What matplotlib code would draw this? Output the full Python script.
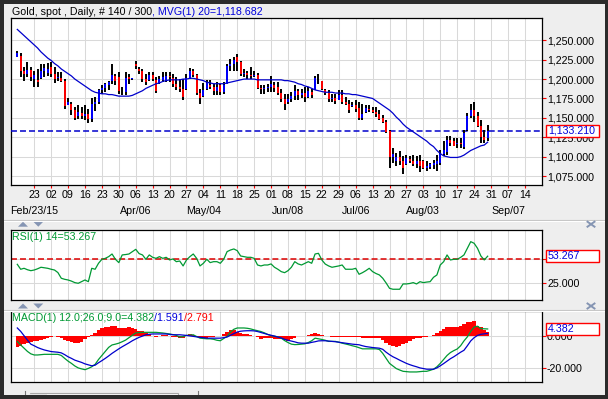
#!/usr/bin/env python3
# Gold spot daily: price bars + MVG(20), RSI(14) and MACD(12,26,9) panels
import matplotlib
matplotlib.use("Agg")
import matplotlib.pyplot as plt
from matplotlib.patches import Rectangle, Polygon
from matplotlib.lines import Line2D
from matplotlib.ticker import FuncFormatter

plt.rcParams["font.family"] = ["Liberation Sans", "DejaVu Sans"]

W, H = 608, 399
BG = "#eeeeee"
FRAME = "#2b2b2b"
GRID = "#d9d9d9"
BLUE = "#0000dd"
GREEN = "#009933"
RED = "#ff0000"
ICON = "#8595b3"
FS = 7.7

# --- data ---
open_ = [1229, 1230, 1210, 1206, 1212, 1200, 1199, 1201, 1210, 1208,
         1215, 1207, 1201, 1202, 1198, 1166, 1168, 1160, 1152, 1156,
         1153, 1155, 1148, 1168, 1170, 1186, 1188, 1192, 1197, 1204,
         1203, 1185, 1183, 1203, 1200, 1220, 1213, 1210, 1200, 1199,
         1205, 1199, 1195, 1199, 1198, 1204, 1202, 1194, 1190, 1187,
         1187, 1202, 1210, 1205, 1182, 1178, 1187, 1193, 1190, 1185,
         1192, 1183, 1194, 1217, 1220, 1228, 1222, 1207, 1208, 1205,
         1204, 1205, 1188, 1187, 1189, 1190, 1193, 1190, 1182, 1174,
         1170, 1174, 1178, 1184, 1180, 1182, 1177, 1183, 1186, 1202,
         1198, 1186, 1182, 1174, 1176, 1173, 1180, 1170, 1168, 1165,
         1167, 1163, 1150, 1157, 1162, 1160, 1158, 1155, 1150, 1145,
         1133, 1100, 1094, 1100, 1094, 1090, 1097, 1095, 1090, 1095,
         1094, 1086, 1087, 1089, 1090, 1092, 1104, 1106, 1122, 1120,
         1116, 1117, 1113, 1134, 1153, 1160, 1153, 1140, 1125, 1124]
high = [1236.5, 1233.5, 1215, 1221.6, 1215, 1211, 1213, 1219.5, 1219.5, 1220.3,
        1221.6, 1215, 1209, 1209, 1200.3, 1175, 1170.6, 1164, 1166.4, 1164,
        1166, 1162, 1175, 1177, 1187.6, 1192, 1195, 1198, 1219.5, 1206.7,
        1209, 1190, 1209, 1206.7, 1201.6, 1223.7, 1216, 1213, 1206.7, 1209,
        1209, 1202.5, 1204.6, 1209, 1209, 1209, 1206.7, 1202.5, 1200.3, 1200,
        1206.7, 1214.4, 1213, 1206.7, 1187.6, 1195, 1199, 1199, 1194, 1196,
        1194, 1196, 1219.5, 1226, 1228, 1232, 1223.7, 1213, 1211, 1215,
        1211, 1207.6, 1192, 1192, 1194, 1204.6, 1196, 1196, 1187.6, 1181,
        1181, 1183.4, 1192, 1187.6, 1187.6, 1189.7, 1189.7, 1187.6, 1204.6, 1206.7,
        1198, 1187.6, 1185.5, 1181, 1181, 1185.5, 1185.5, 1177, 1172.7, 1170.6,
        1172.7, 1170.6, 1168.5, 1166.4, 1166.4, 1164.2, 1164.2, 1160, 1153.6, 1147.2,
        1134.5, 1111.1, 1104.7, 1106.9, 1100.5, 1102.6, 1100.5, 1102.6, 1100.5, 1102.6,
        1096.2, 1094.1, 1092, 1096.2, 1102.6, 1109, 1119.6, 1126, 1126, 1124,
        1124, 1124, 1134.5, 1156.6, 1168.5, 1170.6, 1157.9, 1147.2, 1134.5, 1140.9]
low = [1228, 1202.5, 1198, 1202.5, 1198, 1190, 1190, 1200.3, 1202.5, 1204.6,
       1202.5, 1195, 1198, 1196, 1162, 1166, 1153.6, 1147, 1148, 1148,
       1147, 1143, 1145, 1159, 1168.5, 1181, 1183.4, 1185.5, 1194, 1192,
       1181, 1179, 1179, 1194, 1199, 1213, 1206.7, 1196, 1192, 1198,
       1198, 1182, 1194, 1196, 1196, 1196, 1189.7, 1186.3, 1183.4, 1173.6,
       1185.5, 1200.3, 1202.5, 1179, 1167.6, 1177, 1185.5, 1187.6, 1179, 1179,
       1179, 1181, 1194, 1211, 1211, 1211, 1204.6, 1202.5, 1200.3, 1200.3,
       1202.5, 1187.6, 1181, 1181, 1183.4, 1183.4, 1183.4, 1179, 1170.6, 1160,
       1168.5, 1170.6, 1172.7, 1172.7, 1175, 1170.6, 1175, 1175, 1185.5, 1194,
       1185.5, 1179, 1170.6, 1170.6, 1168.5, 1172.7, 1168.5, 1166.4, 1155.7, 1164.2,
       1157.9, 1147.2, 1147.2, 1155.7, 1157.9, 1155.7, 1151.5, 1147.2, 1143, 1130.2,
       1085.6, 1092, 1087.7, 1089.9, 1077.1, 1089.9, 1092, 1087.7, 1085.6, 1080.1,
       1083.5, 1081.4, 1083.5, 1083.5, 1081.4, 1089.9, 1100.5, 1102.6, 1113.2, 1113.2,
       1111.1, 1111.1, 1110, 1133.6, 1149.4, 1145.1, 1138.7, 1117.5, 1117.5, 1120]
close = [1234, 1210, 1206, 1212, 1203, 1205, 1196, 1210, 1214, 1213,
         1207, 1200, 1203, 1198, 1165, 1170, 1160, 1150, 1157, 1153,
         1155, 1148, 1168, 1170, 1186, 1188, 1194, 1196, 1205, 1198,
         1185, 1184, 1202, 1200, 1201, 1217, 1210, 1200, 1196, 1205,
         1200, 1185, 1200, 1203, 1204, 1203, 1194, 1190, 1187, 1177,
         1202, 1210, 1205, 1182, 1175, 1186, 1195, 1190, 1185, 1190,
         1183, 1193, 1217, 1220, 1225, 1222, 1207, 1208, 1205, 1204,
         1205, 1188, 1187, 1189, 1190, 1194, 1189, 1182, 1174, 1168,
         1174, 1178, 1185, 1180, 1182, 1177, 1184, 1180, 1202, 1201,
         1187, 1182, 1174, 1176, 1172, 1180, 1170, 1168, 1160, 1167,
         1161, 1150, 1155, 1163, 1160, 1158, 1155, 1148, 1145, 1132,
         1100, 1104, 1100, 1094, 1085, 1098, 1095, 1090, 1095, 1088,
         1086, 1088, 1090, 1092, 1094, 1104, 1108, 1122, 1118, 1114,
         1118, 1116, 1130, 1153, 1160, 1153, 1140, 1125, 1122, 1133.21]
mvg = [1264, 1260, 1256, 1252, 1248, 1244, 1240, 1235, 1231, 1227,
       1224, 1220, 1217, 1213, 1210, 1207, 1204, 1200, 1197, 1194,
       1191, 1188, 1185, 1183, 1182, 1181, 1181, 1180, 1180, 1179,
       1178, 1178, 1178, 1178, 1179, 1181, 1183, 1185, 1188, 1190,
       1192, 1194, 1195, 1197, 1198, 1199, 1199, 1199, 1199, 1200,
       1200, 1201, 1201, 1200, 1199, 1198, 1196, 1195, 1194, 1194,
       1194, 1194, 1195, 1196, 1197, 1198, 1199, 1200, 1200, 1200,
       1200, 1199, 1199, 1199, 1199, 1199, 1199, 1199, 1199, 1198,
       1198, 1197, 1196, 1194, 1193, 1191, 1190, 1188, 1186, 1185,
       1184, 1183, 1183, 1183, 1182, 1182, 1182, 1181, 1181, 1180,
       1180, 1179, 1178, 1177, 1176, 1175, 1172, 1169, 1166, 1163,
       1160, 1156, 1151, 1147, 1142, 1138, 1135, 1132, 1129, 1126,
       1123, 1120, 1116, 1113, 1108, 1104, 1101, 1100, 1099, 1099,
       1099, 1100, 1102, 1105, 1108, 1110, 1112, 1114, 1115, 1118.682]
rsi = [44.7, 39.5, 40.5, 39.0, 38.0, 38.7, 40.0, 41.6, 41.0, 40.5,
       39.5, 38.7, 36.0, 30.0, 28.9, 28.2, 27.0, 25.4, 24.7, 26.4,
       28.2, 26.4, 40.5, 39.5, 45.8, 50.0, 51.0, 52.8, 55.6, 50.0,
       46.5, 54.6, 55.0, 55.6, 58.0, 60.5, 56.0, 54.6, 50.0, 54.6,
       52.1, 51.0, 52.8, 51.0, 52.1, 49.3, 50.4, 47.5, 48.2, 43.0,
       49.3, 52.8, 55.6, 51.0, 43.0, 45.8, 50.0, 46.5, 47.5, 47.5,
       45.8, 50.0, 58.1, 59.8, 60.9, 59.1, 53.5, 52.8, 52.1, 52.1,
       51.0, 44.0, 43.0, 44.0, 44.0, 45.1, 41.6, 39.5, 37.0, 35.9,
       38.0, 41.6, 47.5, 45.1, 44.0, 45.8, 47.5, 45.8, 55.6, 56.3,
       49.3, 45.0, 43.0, 41.6, 42.3, 43.0, 44.0, 39.5, 39.5, 39.5,
       40.5, 34.2, 35.9, 38.0, 40.5, 37.0, 35.0, 33.5, 30.0, 25.0,
       19.4, 18.4, 18.4, 18.4, 24.0, 24.0, 24.5, 25.4, 24.0, 26.4,
       25.4, 26.0, 26.4, 31.0, 33.5, 44.0, 47.5, 54.6, 49.3, 50.0,
       50.0, 52.0, 54.6, 61.6, 68.6, 66.9, 61.6, 53.5, 49.3, 53.267]
macd = [-3.3, -5.5, -7.5, -9.5, -11.0, -11.7, -11.7, -11.5, -11.3, -11.3,
        -11.3, -11.3, -11.3, -12.0, -13.8, -15.5, -16.9, -18.5, -19.7, -20.3,
        -20.8, -20.0, -19.0, -17.5, -14.5, -12.0, -9.5, -7.0, -5.5, -5.0,
        -4.4, -3.5, -2.5, -1.0, 0.5, 1.9, 2.2, 2.3, 2.3, 2.3,
        2.3, 2.3, 2.1, 1.9, 1.6, 1.3, 0.9, 0.4, -0.6, -0.3,
        0.4, 0.6, 0.8, -0.3, -1.3, -1.5, -1.7, -1.7, -2.0, -2.6,
        -2.9, -1.5, -0.2, 2.5, 4.2, 5.0, 5.0, 5.0, 4.8, 4.4,
        3.8, 3.3, 2.8, 2.0, 1.0, 0.2, -0.1, -0.5, -1.3, -2.8,
        -4.0, -5.0, -5.3, -5.2, -5.0, -4.8, -4.0, -2.9, -1.3, -1.7,
        -2.1, -2.6, -3.3, -3.3, -3.3, -3.8, -4.4, -4.9, -5.4, -6.0,
        -6.5, -7.2, -7.9, -7.9, -7.9, -7.9, -7.9, -8.3, -10.7, -13.8,
        -16.9, -18.5, -20.1, -21.0, -21.8, -22.0, -22.2, -22.2, -22.2, -22.0,
        -21.8, -21.8, -21.2, -20.5, -19.0, -16.9, -14.5, -12.0, -10.2, -9.0,
        -8.0, -6.0, -3.0, -0.5, 2.9, 5.6, 6.1, 4.6, 4.5, 4.382]
signal = [5.0, 2.9, 0.2, -2.5, -5.0, -6.0, -7.1, -7.9, -8.6, -9.1,
          -9.6, -9.8, -10.0, -10.4, -11.5, -12.8, -13.8, -14.9, -15.6, -16.3,
          -17.2, -17.8, -18.4, -18.0, -16.5, -15.2, -13.8, -12.3, -10.7, -9.3,
          -7.9, -6.6, -5.4, -4.2, -2.9, -1.8, -0.8, 0.0, 0.8, 1.1,
          1.3, 1.3, 1.3, 1.3, 1.3, 1.0, 0.8, 0.8, 0.8, 0.6,
          0.4, 0.1, -0.2, -0.5, -0.8, -1.0, -1.3, -1.3, -1.3, -1.3,
          -1.3, -1.0, -0.6, 0.5, 1.5, 2.5, 3.0, 3.2, 3.3, 3.3,
          3.2, 2.8, 2.2, 1.6, 1.0, 0.5, 0.0, -0.6, -1.2, -2.0,
          -2.6, -3.1, -3.6, -4.2, -4.4, -4.4, -4.4, -3.9, -3.5, -3.0,
          -2.9, -2.9, -3.1, -3.3, -3.5, -3.8, -4.1, -4.4, -4.7, -5.0,
          -5.2, -5.4, -6.0, -6.5, -6.8, -7.1, -7.3, -7.5, -8.2, -10.0,
          -11.5, -12.8, -13.8, -14.9, -15.9, -16.9, -17.7, -18.4, -19.0, -19.7,
          -20.1, -20.5, -20.5, -20.5, -19.7, -18.4, -17.0, -15.5, -14.0, -12.8,
          -11.4, -10.0, -8.8, -6.0, -3.0, -1.0, 0.4, 1.1, 1.4, 1.591]
hist = [-6.5, -6.0, -5.2, -4.6, -3.8, -3.3, -3.0, -2.5, -1.6, -1.0,
        -0.4, -0.2, -0.6, -1.1, -2.2, -3.0, -3.6, -4.2, -4.4, -3.8,
        -2.0, -0.6, 0.8, 1.7, 3.5, 4.7, 5.3, 5.9, 6.5, 6.2,
        5.2, 4.7, 5.0, 5.3, 5.0, 4.2, 3.4, 2.9, 2.0, 1.0,
        0.1, -0.4, -0.2, 0.4, 0.4, -0.1, -0.6, -0.8, -1.3, -0.9,
        -0.2, 1.3, 0.4, -0.8, -1.3, -1.3, -1.3, -0.8, -0.6, -0.2,
        -0.1, 1.2, 2.5, 4.0, 4.0, 2.7, 1.8, 1.3, 1.1, 0.6,
        0.1, -0.8, -1.6, -1.5, -0.9, -1.2, -1.6, -1.7, -2.1, -2.3,
        -2.8, -2.0, -1.0, -0.2, 0.1, 0.3, 0.8, 1.3, 1.9, 1.3,
        0.6, 0.0, -0.2, -0.4, -0.6, -0.8, -0.8, -0.8, -0.8, -0.8,
        -0.8, -0.8, -1.0, -1.3, -1.3, -1.3, -1.3, -1.3, -2.5, -4.6,
        -5.7, -6.4, -6.5, -5.9, -4.8, -4.0, -3.2, -2.1, -1.5, -1.3,
        -0.8, -0.4, -0.2, 0.8, 2.0, 3.3, 4.6, 5.4, 5.4, 5.9,
        5.9, 6.3, 7.5, 8.8, 8.8, 9.2, 6.1, 5.4, 4.0, 2.791]

tick_days = ["23", "02", "09", "16", "23", "30", "06", "13", "20", "27",
             "04", "11", "18", "25", "01", "08", "15", "22", "29", "06",
             "13", "20", "27", "03", "10", "17", "24", "31", "07", "14"]
month_labels = ["Feb/23/15", "", "", "", "", "", "Apr/06", "", "", "",
                "May/04", "", "", "", "", "Jun/08", "", "", "", "Jul/06",
                "", "", "", "Aug/03", "", "", "", "", "Sep/07", ""]
price_ticks = [1075, 1100, 1125, 1150, 1175, 1200, 1225, 1250]
rsi_ticks = [25, 50]
macd_ticks = [-20, 0]

x = list(range(len(close)))
# one tick per Monday: every 5th bar, first bar is Mon 16 Feb
tick_pos = [5 * (k + 1) for k in range(len(tick_days))]

fig = plt.figure(figsize=(W / 100, H / 100), dpi=100)
fig.patch.set_facecolor(BG)

L, R = 11, 542


def px(xp, yp):
    return xp / W, 1 - yp / H


def panel(top, bottom, ylim, yticks, fmt):
    a = fig.add_axes([L / W, 1 - bottom / H, (R - L) / W, (bottom - top) / H])
    a.set_facecolor("white")
    for s in a.spines.values():
        s.set_linewidth(0.9)
        s.set_color("black")
    a.set_xlim(-1.86, 155.06)
    a.set_ylim(*ylim)
    a.set_xticks(tick_pos)
    a.set_yticks(yticks)
    a.yaxis.tick_right()
    a.yaxis.set_major_formatter(FuncFormatter(fmt))
    a.grid(True, color=GRID, linewidth=0.75)
    a.set_axisbelow(True)
    a.tick_params(axis="y", direction="out", length=2.6, width=0.8, color=RED,
                  labelcolor="black", labelsize=FS, pad=1)
    a.tick_params(axis="x", length=0, labelbottom=False)
    return a


ax = panel(18, 185, (1063.5, 1278.7), price_ticks, lambda v, p: f"{v:,.3f}")
ax_rsi = panel(230, 300, (7.07, 80.9), rsi_ticks, lambda v, p: f"{v:.3f}")
ax_macd = panel(311, 382.3, (-28.6, 15.5), macd_ticks, lambda v, p: f"{v:.3f}")

# price panel
ax.tick_params(axis="x", direction="out", length=2.3, width=0.8, color=RED,
               labelbottom=True, labelsize=FS, pad=1.5, labelcolor="black")
ax.set_xticklabels(tick_days)
for pos, lab in zip(tick_pos, month_labels):
    if lab:
        ax.annotate(lab, (pos, 0), xycoords=("data", "axes fraction"),
                    xytext=(0, -18.8), textcoords="offset points",
                    ha="center", va="center", fontsize=FS)

ax.axhline(close[-1], color="#0000cc", lw=1.1, dashes=(3.9, 2.0), zorder=2.6)
ax.vlines(x, low, high, colors="black", lw=1.4, zorder=3)
body = ["#0000ff" if c >= o else RED for o, c in zip(open_, close)]
ax.vlines(x, open_, close, colors=body, lw=1.4, zorder=3.5)
ax.plot(x, mvg, color="#0000cc", lw=0.9, zorder=4)

# RSI panel
ax_rsi.axhline(50, color="#dd0000", lw=1.1, dashes=(3.9, 2.0), zorder=2)
ax_rsi.plot(x, rsi, color=GREEN, lw=0.9, zorder=3)

# MACD panel
ax_macd.bar(x, hist, width=1.0, color=RED, linewidth=0, zorder=2)
ax_macd.plot(x, macd, color=GREEN, lw=0.9, zorder=3)
ax_macd.plot(x, signal, color="#0000cc", lw=0.9, zorder=3)


def value_box(a, v, label):
    yd = a.transData.transform((0, v))[1]
    h = 12.5
    fig.add_artist(Rectangle((545.5 / W, (yd - h / 2) / H), 53 / W, h / H,
                             transform=fig.transFigure, facecolor="white",
                             edgecolor=RED, lw=1.0, zorder=5))
    fig.text(548 / W, yd / H, label, color=BLUE, fontsize=FS,
             va="center", ha="left", zorder=6)


value_box(ax, close[-1], f"{close[-1]:,.3f}")
value_box(ax_rsi, rsi[-1], f"{rsi[-1]:.3f}")
value_box(ax_macd, macd[-1], f"{macd[-1]:.3f}")


def chain(xp, yp, parts):
    r = fig.canvas.get_renderer()
    for s, c in parts:
        t = fig.text(*px(xp, yp), s, color=c, fontsize=FS, va="center", ha="left", zorder=6)
        xp += t.get_window_extent(r).width


chain(12, 12, [(f"Gold, spot , Daily, # {len(close)} / 300", "black"),
               (f", MVG(1) 20={mvg[-1]:,.3f}", BLUE)])
chain(12, 237, [(f"RSI(1) 14={rsi[-1]:.3f}", GREEN)])
chain(12, 318.3, [(f"MACD(1) 12.0;26.0;9.0={macd[-1]:.3f}", GREEN),
                  (f"/{signal[-1]:.3f}", BLUE), (f"/{hist[-1]:.3f}", RED)])

# window chrome: separators, arrows, close buttons, scrollbar, frame
for yp in (219.5, 309.5):
    fig.add_artist(Line2D([4 / W, 605 / W], [1 - yp / H] * 2, color="#c4c4c4", lw=0.8))
    fig.add_artist(Line2D([4 / W, 605 / W], [1 - (yp + 1) / H] * 2, color="white", lw=0.8))


def tri(cx, cy, up):
    w, h = 10, 5
    if up:
        pts = [(cx - w / 2, cy + h / 2), (cx + w / 2, cy + h / 2), (cx, cy - h / 2)]
    else:
        pts = [(cx - w / 2, cy - h / 2), (cx + w / 2, cy - h / 2), (cx, cy + h / 2)]
    fig.add_artist(Polygon([px(a, b) for a, b in pts], closed=True,
                           transform=fig.transFigure, facecolor=ICON, lw=0))


def close_btn(cx, cy):
    for d in (1, -1):
        fig.add_artist(Line2D([(cx - 3.5) / W, (cx + 3.5) / W],
                              [1 - (cy - 2.5 * d) / H, 1 - (cy + 2.5 * d) / H],
                              color=ICON, lw=1.4))


for cy in (224.2, 306):
    tri(23, cy, True)
    tri(38.3, cy, False)
    close_btn(591, cy)

fig.add_artist(Rectangle((29.5 / W, 0), 148.8 / W, (H - 392.8) / H, transform=fig.transFigure,
                         facecolor="#f7f7f7", edgecolor="#a8a8a8", lw=0.8))
fig.add_artist(Rectangle((30 / W, 0), 16.5 / W, (H - 393.5) / H, transform=fig.transFigure,
                         facecolor="#e2e2e2", lw=0))
for xp in (25.2, 197.7):
    fig.add_artist(Line2D([xp / W] * 2, [1 - 390.5 / H, 1 - 396 / H], color="#777777", lw=0.8))

for rx, ry, rw, rh in [(0, 0, W, 4), (0, 0, 3.5, H), (605, 0, 3, H), (0, 395, W, 4)]:
    fig.add_artist(Rectangle((rx / W, 1 - (ry + rh) / H), rw / W, rh / H,
                             transform=fig.transFigure, facecolor=FRAME, lw=0, zorder=10))

fig.savefig("out.png", dpi=100, facecolor=BG)
